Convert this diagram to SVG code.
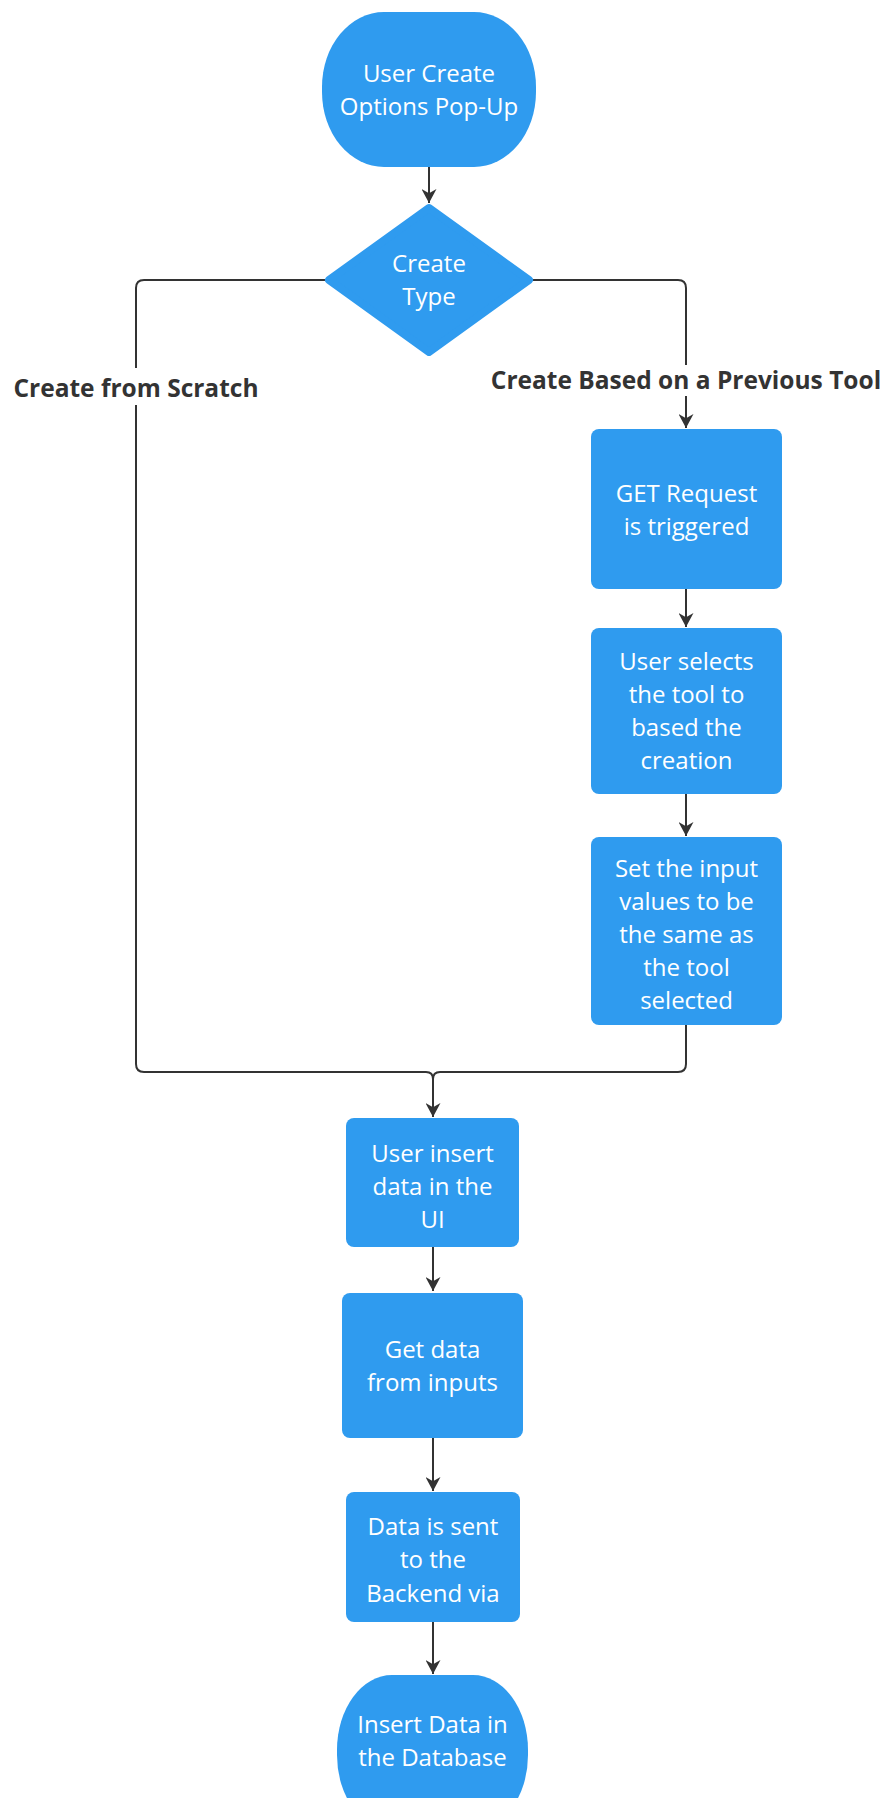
<svg xmlns="http://www.w3.org/2000/svg" width="886" height="1798" viewBox="0 0 886 1798">
  <defs>
    <marker id="arrow" viewBox="0 0 14 14" markerWidth="15" markerHeight="15" refX="13" refY="7" orient="auto" markerUnits="userSpaceOnUse">
      <path d="M0,0 L13,7 L0,14 L4,7 Z" fill="#333333"/>
    </marker>
    <style>
      .shape { fill: #2f9bef; }
      .node-text { font-family: "Open Sans", "Noto Sans", sans-serif; font-size: 24px; fill: #ffffff; text-anchor: middle; }
      .edge { fill: none; stroke: #333333; stroke-width: 2; }
      .label-bg { fill: #ffffff; }
      .label { font-family: "Open Sans", "Noto Sans", sans-serif; font-size: 24.5px; font-weight: bold; fill: #333333; text-anchor: middle; }
    </style>
  </defs>
  <rect width="886" height="1798" fill="#ffffff"/>

  <!-- connectors -->
  <g id="connectors">
    <path class="edge" d="M429,167 L429,203" marker-end="url(#arrow)"/>
    <path class="edge" d="M325,280 L144,280 Q136,280 136,288 L136,1064 Q136,1072 144,1072 L426,1072 Q433,1072 433,1079 L433,1117" marker-end="url(#arrow)"/>
    <path class="edge" d="M533,280 L678,280 Q686,280 686,288 L686,428" marker-end="url(#arrow)"/>
    <path class="edge" d="M686,589 L686,627" marker-end="url(#arrow)"/>
    <path class="edge" d="M686,794 L686,836" marker-end="url(#arrow)"/>
    <path class="edge" d="M686,1025 L686,1064 Q686,1072 678,1072 L440,1072 Q433,1072 433,1079"/>
    <path class="edge" d="M433,1247 L433,1291" marker-end="url(#arrow)"/>
    <path class="edge" d="M433,1438 L433,1491" marker-end="url(#arrow)"/>
    <path class="edge" d="M433,1622 L433,1674" marker-end="url(#arrow)"/>

    <g id="label-scratch">
      <rect class="label-bg" x="8" y="368" width="256" height="37"/>
      <text class="label" x="136" y="397">Create from Scratch</text>
    </g>
    <g id="label-previous">
      <rect class="label-bg" x="486" y="365" width="400" height="31"/>
      <text class="label" x="686" y="389">Create Based on a Previous Tool</text>
    </g>
  </g>

  <!-- nodes -->
  <g id="start">
    <rect class="shape" x="322" y="12" width="214" height="155" rx="62" ry="75"/>
    <text class="node-text" x="429" y="82">User Create</text>
    <text class="node-text" x="429" y="115">Options Pop-Up</text>
  </g>

  <g id="create-type">
    <polygon class="shape" points="429,208 529,280 429,352 329,280" stroke="#2f9bef" stroke-width="8" stroke-linejoin="round"/>
    <text class="node-text" x="429" y="272">Create</text>
    <text class="node-text" x="429" y="305">Type</text>
  </g>

  <g id="get-request">
    <rect class="shape" x="591" y="429" width="191" height="160" rx="8"/>
    <text class="node-text" x="686.5" y="502">GET Request</text>
    <text class="node-text" x="686.5" y="535">is triggered</text>
  </g>

  <g id="select-tool">
    <rect class="shape" x="591" y="628" width="191" height="166" rx="8"/>
    <text class="node-text" x="686.5" y="670">User selects</text>
    <text class="node-text" x="686.5" y="703">the tool to</text>
    <text class="node-text" x="686.5" y="736">based the</text>
    <text class="node-text" x="686.5" y="769">creation</text>
  </g>

  <g id="set-inputs">
    <rect class="shape" x="591" y="837" width="191" height="188" rx="8"/>
    <text class="node-text" x="686.5" y="877">Set the input</text>
    <text class="node-text" x="686.5" y="910">values to be</text>
    <text class="node-text" x="686.5" y="943">the same as</text>
    <text class="node-text" x="686.5" y="976">the tool</text>
    <text class="node-text" x="686.5" y="1009">selected</text>
  </g>

  <g id="insert-ui">
    <rect class="shape" x="346" y="1118" width="173" height="129" rx="8"/>
    <text class="node-text" x="432.5" y="1162">User insert</text>
    <text class="node-text" x="432.5" y="1195">data in the</text>
    <text class="node-text" x="432.5" y="1228">UI</text>
  </g>

  <g id="get-data">
    <rect class="shape" x="342" y="1293" width="181" height="145" rx="8"/>
    <text class="node-text" x="432.5" y="1358">Get data</text>
    <text class="node-text" x="432.5" y="1391">from inputs</text>
  </g>

  <g id="send-backend">
    <rect class="shape" x="346" y="1492" width="174" height="130" rx="8"/>
    <text class="node-text" x="433" y="1535">Data is sent</text>
    <text class="node-text" x="433" y="1568">to the</text>
    <text class="node-text" x="433" y="1602">Backend via</text>
  </g>

  <g id="end">
    <rect class="shape" x="337" y="1675" width="191" height="155" rx="55" ry="75"/>
    <text class="node-text" x="432.5" y="1733">Insert Data in</text>
    <text class="node-text" x="432.5" y="1766">the Database</text>
  </g>
</svg>
